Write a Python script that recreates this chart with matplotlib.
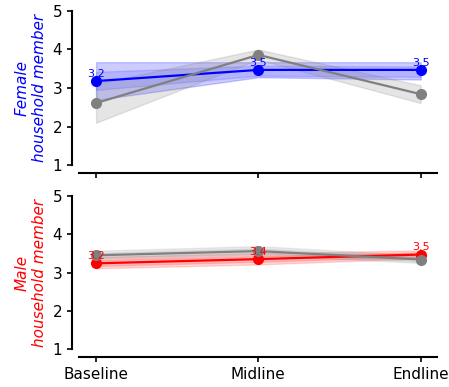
import matplotlib
matplotlib.use("Agg")
import matplotlib.pyplot as plt
import numpy as np

# Survey rounds
rounds = ["Baseline", "Midline", "Endline"]

# Female household member panel
female_mean = [3.18, 3.47, 3.47]
female_lo = [2.69, 3.28, 3.22]
female_hi = [3.67, 3.67, 3.67]
female_inner_lo = [2.95, 3.32, 3.29]
female_inner_hi = [3.42, 3.58, 3.56]
female_cmp_mean = [2.61, 3.86, 2.84]
female_cmp_lo = [2.10, 3.74, 2.61]
female_cmp_hi = [3.11, 4.00, 3.07]

# Male household member panel
male_mean = [3.24, 3.35, 3.47]
male_lo = [3.11, 3.21, 3.37]
male_hi = [3.40, 3.50, 3.58]
male_inner_lo = [3.17, 3.28, 3.41]
male_inner_hi = [3.33, 3.43, 3.53]
male_cmp_mean = [3.45, 3.56, 3.34]
male_cmp_lo = [3.36, 3.46, 3.25]
male_cmp_hi = [3.57, 3.69, 3.45]
male_cmp_inner_lo = [3.40, 3.51, 3.29]
male_cmp_inner_hi = [3.51, 3.63, 3.40]

fig = plt.figure(figsize=(4.49, 3.87), dpi=100)
ax_top = fig.add_axes([0.176, 0.5736, 0.797, 0.398])
ax_bot = fig.add_axes([0.176, 0.0982, 0.797, 0.3953])

x = np.arange(len(rounds))


def draw_panel(ax, color, mean, bands, cmp_mean, cmp_bands, ylabel):
    for lo, hi, a in bands:
        ax.fill_between(x, lo, hi, color=color, alpha=a, linewidth=1, zorder=1)
    for lo, hi, a in cmp_bands:
        ax.fill_between(x, lo, hi, color="gray", alpha=a, linewidth=1, zorder=1)
    ax.plot(x, mean, color=color, lw=1.6, marker="o", ms=7, zorder=3)
    ax.plot(x, cmp_mean, color="gray", lw=1.6, marker="o", ms=7, zorder=4)
    for xi, v in zip(x, mean):
        ax.annotate(f"{v:.1f}", (xi, v), xytext=(0, 1.5), textcoords="offset points",
                    ha="center", va="bottom", fontsize=8, color=color, zorder=5)
    ax.set_xlim(-0.105, 2.1)
    ax.set_ylim(1, 5)
    ax.set_yticks([1, 2, 3, 4, 5])
    ax.set_xticks(x)
    ax.spines["top"].set_visible(False)
    ax.spines["right"].set_visible(False)
    ax.spines["left"].set_position(("outward", 5))
    ax.spines["bottom"].set_position(("outward", 5.8))
    ax.spines["left"].set_linewidth(1.5)
    ax.spines["bottom"].set_linewidth(1.5)
    ax.tick_params(labelsize=11, width=1.2)
    ax.set_ylabel(ylabel, color=color, fontsize=11, style="italic", labelpad=4)


draw_panel(ax_top, "blue", female_mean,
           [(female_lo, female_hi, 0.2), (female_inner_lo, female_inner_hi, 0.12)],
           female_cmp_mean, [(female_cmp_lo, female_cmp_hi, 0.2)],
           "Female\nhousehold member")
draw_panel(ax_bot, "red", male_mean,
           [(male_lo, male_hi, 0.15), (male_inner_lo, male_inner_hi, 0.15)],
           male_cmp_mean,
           [(male_cmp_lo, male_cmp_hi, 0.15), (male_cmp_inner_lo, male_cmp_inner_hi, 0.15)],
           "Male\nhousehold member")

ax_top.set_xticklabels([])
ax_bot.set_xticklabels(rounds)

fig.savefig("out.png", dpi=100)
